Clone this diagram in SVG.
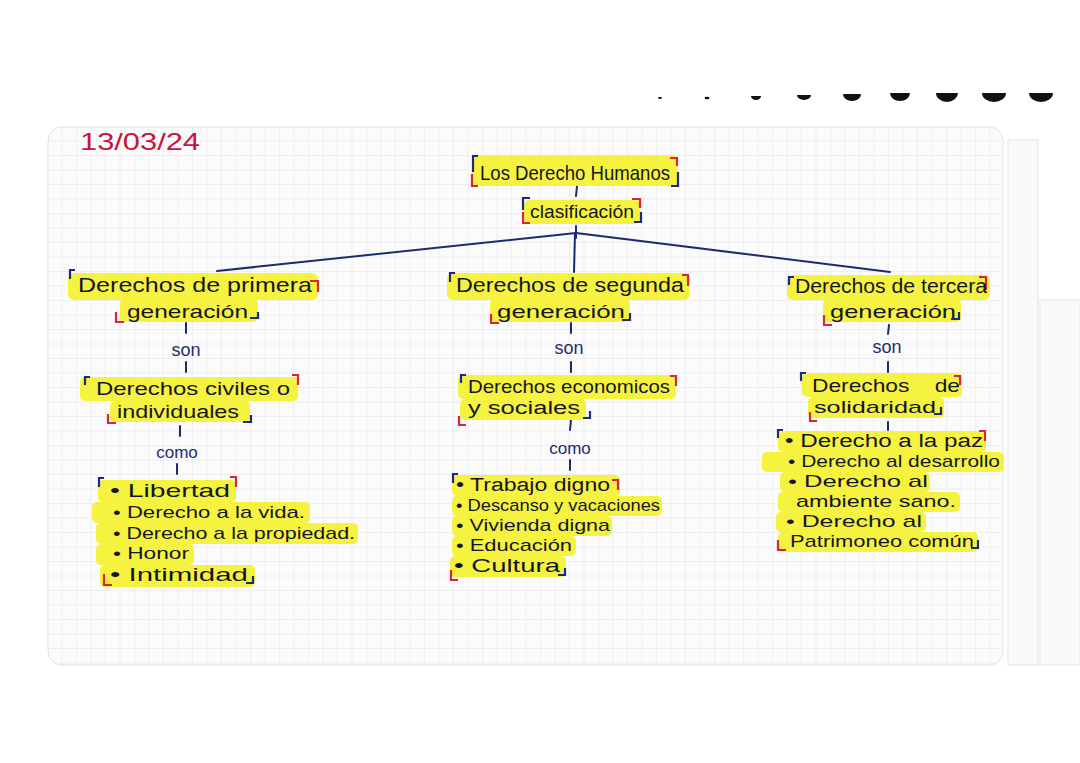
<svg xmlns="http://www.w3.org/2000/svg" width="1080" height="763" viewBox="0 0 1080 763">
<style>
.t{font-family:"Liberation Sans","DejaVu Sans",sans-serif;fill:#16162a;font-weight:normal}
.s{font-family:"Liberation Sans","DejaVu Sans",sans-serif;fill:#1f2a72}
.hl{fill:#f4f22a;opacity:0.9}
.bb{fill:none;stroke:#1d2a80;stroke-width:2.2}
.br{fill:none;stroke:#d8243c;stroke-width:2.2}
.c{stroke:#1d2a70;stroke-width:2;fill:none;stroke-linecap:round}
</style>
<defs>
<pattern id="grid" width="14.5" height="14.5" patternUnits="userSpaceOnUse" x="48" y="127">
<path d="M14.5 0V14.5M0 14.5H14.5" fill="none" stroke="#e3e3e6" stroke-width="1"/>
</pattern>
</defs>
<rect width="1080" height="763" fill="#ffffff"/>
<g id="page">
<rect x="48" y="127" width="955" height="538" rx="14" fill="#fbfbfc" stroke="#e2e2e4"/>
<rect x="48" y="127" width="955" height="538" rx="14" fill="url(#grid)"/>
<rect x="1008" y="140" width="30" height="525" fill="#fafafa" stroke="#e4e4e6"/>
<rect x="1040" y="300" width="40" height="365" fill="#fafafa" stroke="#e8e8ea"/>
</g>
<g id="dots" fill="#111">
<ellipse cx="660" cy="98" rx="2" ry="1"/>
<ellipse cx="707" cy="98" rx="2.5" ry="1.2"/>
<path d="M751 96h10a5 4 0 0 1-10 0z"/>
<path d="M797 95h14a7 5 0 0 1-14 0z"/>
<path d="M843 94h18a9 7 0 0 1-18 0z"/>
<path d="M890 93h20a10 8 0 0 1-20 0z"/>
<path d="M936 93h22a11 9 0 0 1-22 0z"/>
<path d="M982 93h24a12 9 0 0 1-24 0z"/>
<path d="M1029 93h24a12 9 0 0 1-24 0z"/>
</g>
<text id="date" x="80" y="150" font-family="Liberation Sans, sans-serif" font-size="24" fill="#c8143c" textLength="120" lengthAdjust="spacingAndGlyphs">13/03/24</text>
<g id="connectors">
<line class="c" x1="577" y1="186" x2="576" y2="196"/>
<line class="c" x1="576" y1="226" x2="576" y2="238"/>
<line class="c" x1="576" y1="233" x2="217" y2="271"/>
<line class="c" x1="576" y1="233" x2="890" y2="272"/>
<line class="c" x1="575" y1="233" x2="574" y2="272"/>
<line class="c" x1="186" y1="323" x2="186" y2="333"/>
<line class="c" x1="186" y1="362" x2="186" y2="372"/>
<line class="c" x1="180" y1="426" x2="180" y2="436"/>
<line class="c" x1="177" y1="464" x2="177" y2="474"/>
<line class="c" x1="571" y1="323" x2="571" y2="333"/>
<line class="c" x1="571" y1="362" x2="571" y2="372"/>
<line class="c" x1="571" y1="420" x2="570" y2="430"/>
<line class="c" x1="570" y1="460" x2="570" y2="470"/>
<line class="c" x1="889" y1="325" x2="888" y2="334"/>
<line class="c" x1="888" y1="362" x2="888" y2="372"/>
<line class="c" x1="888" y1="422" x2="888" y2="430"/>
</g>
<g id="title">
<rect class="hl" x="472" y="155" width="206" height="31" rx="6"/>
<path class="bb" d="M478 156H473V172"/><path class="br" d="M472 174V186H478"/>
<path class="br" d="M670 158H677V166"/><path class="bb" d="M678 172V186H671"/>
<text class="t" x="480" y="180" font-size="21" textLength="190" lengthAdjust="spacingAndGlyphs">Los Derecho Humanos</text>
</g>
<g id="clasificacion">
<rect class="hl" x="524" y="200" width="116" height="24" rx="5"/>
<path class="bb" d="M530 198H523V210"/><path class="br" d="M523 212V223H530"/>
<path class="br" d="M632 199H640V208"/><path class="bb" d="M641 212V222H634"/>
<text class="t" x="530" y="218" font-size="18" textLength="104" lengthAdjust="spacingAndGlyphs">clasificación</text>
</g>
<g id="primera">
<rect class="hl" x="68" y="273" width="250" height="27" rx="6"/>
<rect class="hl" x="120" y="299" width="138" height="23" rx="5"/>
<path class="bb" d="M75 270H70V279"/><path class="br" d="M310 281H318V292"/>
<path class="br" d="M116 312V322H124"/><path class="bb" d="M250 318H258V312"/>
<text class="t" x="78" y="292" font-size="21" textLength="234" lengthAdjust="spacingAndGlyphs">Derechos de primera</text>
<text class="t" x="127" y="318" font-size="19" textLength="121" lengthAdjust="spacingAndGlyphs">generación</text>
</g>
<text id="son1" class="s" x="186" y="356" font-size="18" text-anchor="middle">son</text>
<g id="civiles">
<rect class="hl" x="80" y="377" width="218" height="24" rx="5"/>
<rect class="hl" x="110" y="401" width="140" height="21" rx="5"/>
<path class="bb" d="M90 377H85V385"/><path class="br" d="M292 375H298V385"/>
<path class="br" d="M108 414V423H116"/><path class="bb" d="M243 422H251V415"/>
<text class="t" x="96" y="395" font-size="19" textLength="194" lengthAdjust="spacingAndGlyphs">Derechos civiles o</text>
<text class="t" x="117" y="418" font-size="18" textLength="122" lengthAdjust="spacingAndGlyphs">individuales</text>
</g>
<text id="como1" class="s" x="177" y="458" font-size="17" text-anchor="middle">como</text>
<g id="lista1">
<rect class="hl" x="98" y="480" width="138" height="22" rx="5"/>
<rect class="hl" x="92" y="502" width="218" height="21" rx="5"/>
<rect class="hl" x="96" y="523" width="262" height="21" rx="5"/>
<rect class="hl" x="96" y="544" width="98" height="21" rx="5"/>
<rect class="hl" x="100" y="565" width="155" height="22" rx="5"/>
<path class="bb" d="M104 478H99V487"/><path class="br" d="M230 477H236V487"/>
<path class="br" d="M104 574V585H112"/><path class="bb" d="M246 583H253V576"/>
<text class="t" x="110" y="497" font-size="19" textLength="120" lengthAdjust="spacingAndGlyphs">• Libertad</text>
<text class="t" x="113" y="518" font-size="17" textLength="192" lengthAdjust="spacingAndGlyphs">• Derecho a la vida.</text>
<text class="t" x="113" y="539" font-size="17" textLength="242" lengthAdjust="spacingAndGlyphs">• Derecho a la propiedad.</text>
<text class="t" x="113" y="559" font-size="17" textLength="76" lengthAdjust="spacingAndGlyphs">• Honor</text>
<text class="t" x="110" y="581" font-size="19" textLength="138" lengthAdjust="spacingAndGlyphs">• Intimidad</text>
</g>
<g id="segunda">
<rect class="hl" x="447" y="273" width="243" height="27" rx="6"/>
<rect class="hl" x="490" y="299" width="140" height="23" rx="5"/>
<path class="bb" d="M455 273H450V282"/><path class="br" d="M682 275H688V286"/>
<path class="br" d="M491 314V323H499"/><path class="bb" d="M622 320H630V313"/>
<text class="t" x="456" y="292" font-size="20" textLength="228" lengthAdjust="spacingAndGlyphs">Derechos de segunda</text>
<text class="t" x="497" y="318" font-size="19" textLength="128" lengthAdjust="spacingAndGlyphs">generación</text>
</g>
<text id="son2" class="s" x="569" y="354" font-size="18" text-anchor="middle">son</text>
<g id="economicos">
<rect class="hl" x="458" y="375" width="218" height="24" rx="5"/>
<rect class="hl" x="460" y="399" width="126" height="21" rx="5"/>
<path class="bb" d="M466 375H461V383"/><path class="br" d="M670 376H676V386"/>
<path class="br" d="M459 416V425H466"/><path class="bb" d="M583 418H590V411"/>
<text class="t" x="468" y="393" font-size="19" textLength="202" lengthAdjust="spacingAndGlyphs">Derechos economicos</text>
<text class="t" x="468" y="414" font-size="18" textLength="112" lengthAdjust="spacingAndGlyphs">y sociales</text>
</g>
<text id="como2" class="s" x="570" y="454" font-size="17" text-anchor="middle">como</text>
<g id="lista2">
<rect class="hl" x="452" y="475" width="168" height="21" rx="5"/>
<rect class="hl" x="452" y="496" width="210" height="20" rx="5"/>
<rect class="hl" x="452" y="516" width="160" height="20" rx="5"/>
<rect class="hl" x="452" y="536" width="124" height="20" rx="5"/>
<rect class="hl" x="450" y="556" width="116" height="21" rx="5"/>
<path class="bb" d="M458 474H453V483"/><path class="br" d="M612 480H618V490"/>
<path class="br" d="M451 570V580H458"/><path class="bb" d="M558 575H565V568"/>
<text class="t" x="456" y="491" font-size="18" textLength="154" lengthAdjust="spacingAndGlyphs">• Trabajo digno</text>
<text class="t" x="456" y="511" font-size="17" textLength="204" lengthAdjust="spacingAndGlyphs">• Descanso y vacaciones</text>
<text class="t" x="456" y="531" font-size="17" textLength="154" lengthAdjust="spacingAndGlyphs">• Vivienda digna</text>
<text class="t" x="456" y="551" font-size="17" textLength="116" lengthAdjust="spacingAndGlyphs">• Educación</text>
<text class="t" x="454" y="572" font-size="19" textLength="106" lengthAdjust="spacingAndGlyphs">• Cultura</text>
</g>
<g id="tercera">
<rect class="hl" x="787" y="275" width="203" height="25" rx="6"/>
<rect class="hl" x="823" y="299" width="138" height="23" rx="5"/>
<path class="bb" d="M794 277H789V285"/><path class="br" d="M979 277H986V290"/>
<path class="br" d="M824 315V325H832"/><path class="bb" d="M951 319H959V312"/>
<text class="t" x="795" y="293" font-size="20" textLength="192" lengthAdjust="spacingAndGlyphs">Derechos de tercera</text>
<text class="t" x="830" y="318" font-size="19" textLength="126" lengthAdjust="spacingAndGlyphs">generación</text>
</g>
<text id="son3" class="s" x="887" y="353" font-size="18" text-anchor="middle">son</text>
<g id="solidaridad">
<rect class="hl" x="802" y="373" width="160" height="24" rx="5"/>
<rect class="hl" x="808" y="397" width="136" height="21" rx="5"/>
<path class="bb" d="M806 373H801V381"/><path class="br" d="M954 376H960V385"/>
<path class="br" d="M810 412V421H817"/><path class="bb" d="M934 414H941V407"/>
<text class="t" x="812" y="392" font-size="19" textLength="148" lengthAdjust="spacingAndGlyphs" xml:space="preserve">Derechos    de</text>
<text class="t" x="814" y="413" font-size="17" textLength="122" lengthAdjust="spacingAndGlyphs">solidaridad</text>
</g>
<g id="lista3">
<rect class="hl" x="778" y="431" width="208" height="21" rx="5"/>
<rect class="hl" x="762" y="452" width="242" height="20" rx="5"/>
<rect class="hl" x="780" y="472" width="150" height="20" rx="5"/>
<rect class="hl" x="778" y="492" width="182" height="20" rx="5"/>
<rect class="hl" x="776" y="512" width="150" height="20" rx="5"/>
<rect class="hl" x="778" y="532" width="200" height="20" rx="5"/>
<path class="bb" d="M783 430H778V438"/><path class="br" d="M979 431H985V441"/>
<path class="br" d="M778 540V550H786"/><path class="bb" d="M971 548H978V540"/>
<text class="t" x="785" y="447" font-size="18" textLength="198" lengthAdjust="spacingAndGlyphs">• Derecho a la paz</text>
<text class="t" x="788" y="467" font-size="17" textLength="212" lengthAdjust="spacingAndGlyphs">• Derecho al desarrollo</text>
<text class="t" x="788" y="487" font-size="17" textLength="140" lengthAdjust="spacingAndGlyphs">• Derecho al</text>
<text class="t" x="796" y="507" font-size="17" textLength="160" lengthAdjust="spacingAndGlyphs">ambiente sano.</text>
<text class="t" x="786" y="527" font-size="17" textLength="136" lengthAdjust="spacingAndGlyphs">• Derecho al</text>
<text class="t" x="790" y="547" font-size="17" textLength="184" lengthAdjust="spacingAndGlyphs">Patrimoneo común</text>
</g>
</svg>
